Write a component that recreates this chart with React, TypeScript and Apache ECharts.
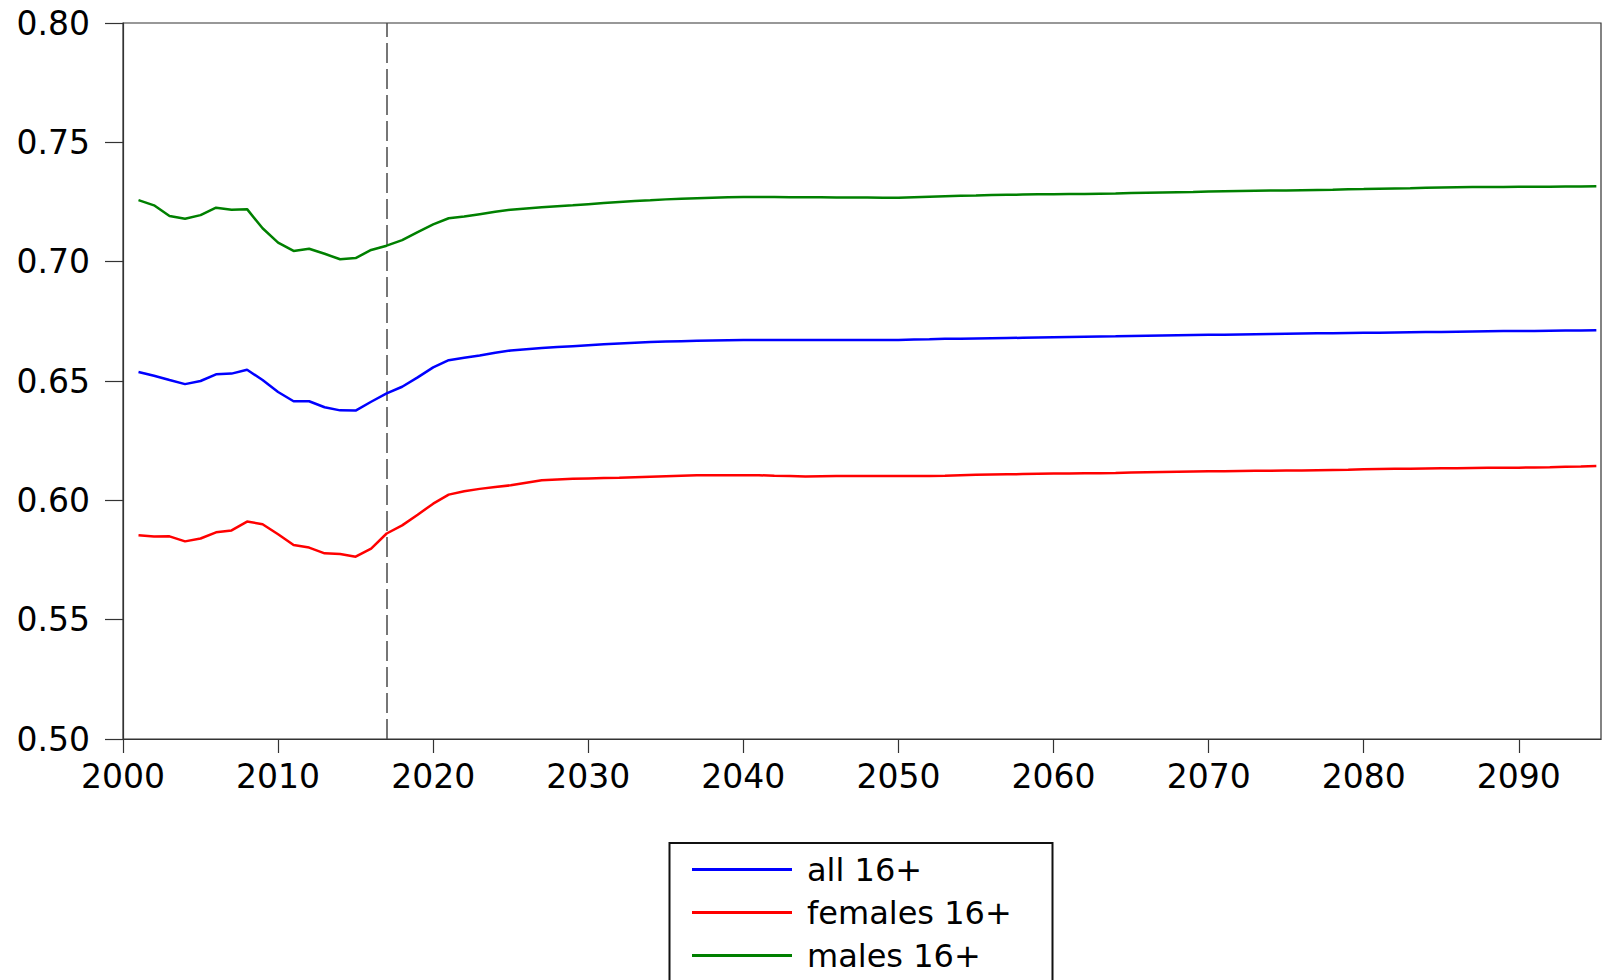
import React, { useEffect, useRef } from "react";
import * as echarts from "echarts";

const startYear = 2001;
const forecastStartYear = 2017;

const seriesNames = ["all 16+", "females 16+", "males 16+"];
const seriesColors = ["#0000FF", "#FF0000", "#008000"];

const allValues = [
  0.6538, 0.6522, 0.6504, 0.6487, 0.65, 0.6528, 0.6531, 0.6547, 0.6504, 0.6454,
  0.6415, 0.6415, 0.639, 0.6377, 0.6376, 0.6413, 0.6448, 0.6476, 0.6515, 0.6557,
  0.6587, 0.6597, 0.6607, 0.6618, 0.6628, 0.6633, 0.6638, 0.6642, 0.6646, 0.665,
  0.6654, 0.6657, 0.666, 0.6663, 0.6665, 0.6667, 0.6669, 0.667, 0.6671, 0.6672,
  0.6672, 0.6672, 0.6672, 0.6672, 0.6672, 0.6672, 0.6672, 0.6672, 0.6672, 0.6672,
  0.6674, 0.6675, 0.6677, 0.6677, 0.6678, 0.6679, 0.668, 0.6681, 0.6682, 0.6683,
  0.6684, 0.6685, 0.6686, 0.6687, 0.6689, 0.669, 0.6691, 0.6692, 0.6693, 0.6694,
  0.6694, 0.6695, 0.6696, 0.6697, 0.6698, 0.6699, 0.67, 0.67, 0.6701, 0.6702,
  0.6702, 0.6703, 0.6704, 0.6705, 0.6705, 0.6706, 0.6707, 0.6708, 0.6709, 0.6709,
  0.671, 0.6711, 0.6712, 0.6712, 0.6713,
];

const femaleValues = [
  0.5854, 0.5848, 0.5849, 0.5828, 0.584, 0.5866, 0.5874, 0.5911, 0.59, 0.5858,
  0.5813, 0.5802, 0.5778, 0.5775, 0.5764, 0.5798, 0.5861, 0.5895, 0.594, 0.5986,
  0.6024, 0.6038, 0.6048, 0.6056, 0.6063, 0.6074, 0.6084, 0.6087, 0.609, 0.6092,
  0.6094, 0.6095, 0.6097, 0.6099, 0.6101, 0.6103, 0.6105, 0.6105, 0.6105, 0.6105,
  0.6105, 0.6103, 0.6102, 0.61, 0.6101, 0.6102, 0.6102, 0.6102, 0.6102, 0.6102,
  0.6102, 0.6102, 0.6103, 0.6105, 0.6107, 0.6108, 0.6109, 0.611, 0.6111, 0.6112,
  0.6112, 0.6113, 0.6114, 0.6115, 0.6117, 0.6118, 0.6119, 0.612, 0.6121, 0.6122,
  0.6122, 0.6123, 0.6124, 0.6124, 0.6125, 0.6125, 0.6126, 0.6127, 0.6128, 0.613,
  0.6131, 0.6132, 0.6132, 0.6133, 0.6134, 0.6134, 0.6135, 0.6136, 0.6137, 0.6137,
  0.6138, 0.6139, 0.6141, 0.6142, 0.6144,
];

const maleValues = [
  0.7258, 0.7236, 0.7191, 0.718, 0.7195, 0.7226, 0.7218, 0.722, 0.714, 0.708,
  0.7045, 0.7054, 0.7033, 0.701, 0.7015, 0.7049, 0.7067, 0.709, 0.7124, 0.7156,
  0.7182, 0.7189, 0.7199, 0.7209, 0.7218, 0.7223, 0.7228, 0.7232, 0.7236, 0.7241,
  0.7246, 0.725, 0.7254, 0.7257, 0.7261, 0.7264, 0.7266, 0.7268, 0.727, 0.7271,
  0.7271, 0.7271, 0.727, 0.727, 0.727, 0.7269, 0.7269, 0.7269, 0.7268, 0.7268,
  0.727, 0.7272, 0.7274, 0.7276, 0.7277, 0.7279, 0.728, 0.7281, 0.7282, 0.7282,
  0.7283, 0.7284, 0.7285, 0.7286, 0.7288, 0.7289, 0.729, 0.7291, 0.7292, 0.7294,
  0.7295, 0.7296, 0.7297, 0.7298, 0.7298, 0.7299, 0.73, 0.7301, 0.7303, 0.7304,
  0.7306, 0.7307, 0.7308, 0.731, 0.7311, 0.7312, 0.7313, 0.7313, 0.7313, 0.7314,
  0.7314, 0.7314, 0.7315, 0.7315, 0.7316,
];

const years = allValues.map((_, i) => startYear + i);

const yTickLabels = ["0.50", "0.55", "0.60", "0.65", "0.70", "0.75", "0.80"];
const xTickLabels = ["2000", "2010", "2020", "2030", "2040", "2050", "2060", "2070", "2080", "2090"];

const FONT = "DejaVu Sans";

export default function App() {
  const ref = useRef<HTMLDivElement>(null);

  useEffect(() => {
    document.body.style.margin = "0";
    const chart = echarts.init(ref.current!, null, { renderer: "svg" });
    const valueSets = [allValues, femaleValues, maleValues];

    const series: any[] = valueSets.map((vals, si) => ({
      name: seriesNames[si],
      type: "line",
      data: vals.map((v, i) => [years[i], v]),
      showSymbol: false,
      symbol: "none",
      lineStyle: { color: seriesColors[si], width: 2.5 },
      itemStyle: { color: seriesColors[si] },
      z: 3,
    }));

    series[0].markLine = {
      silent: true,
      symbol: ["none", "none"],
      label: { show: false },
      lineStyle: { color: "#4a4a4a", type: [20, 6], width: 1.5 },
      data: [{ xAxis: forecastStartYear }],
      z: 2,
    };

    const option: any = {
      animation: false,
      backgroundColor: "#ffffff",
      grid: {
        left: 123,
        top: 23,
        right: 4,
        bottom: 241,
        show: true,
        borderColor: "#333333",
        borderWidth: 1.2,
        containLabel: false,
      },
      xAxis: {
        type: "value",
        min: 2000,
        max: 2095.3,
        interval: 10,
        axisLine: { show: true, onZero: false, lineStyle: { color: "#333333", width: 1.2 } },
        axisTick: { show: true, inside: false, length: 14, lineStyle: { color: "#333333", width: 1.2 } },
        splitLine: { show: false },
        axisLabel: {
          showMaxLabel: false,
          margin: 21,
          color: "#000000",
          fontFamily: FONT,
          fontSize: 33,
          formatter: (v: number) => {
            const idx = Math.round((v - 2000) / 10);
            return xTickLabels[idx] ?? "";
          },
        },
      },
      yAxis: {
        type: "value",
        min: 0.5,
        max: 0.8,
        interval: 0.05,
        axisLine: { show: true, onZero: false, lineStyle: { color: "#333333", width: 1.2 } },
        axisTick: { show: true, inside: false, length: 18, lineStyle: { color: "#333333", width: 1.2 } },
        splitLine: { show: false },
        axisLabel: {
          margin: 33,
          color: "#000000",
          fontFamily: FONT,
          fontSize: 33,
          formatter: (v: number) => {
            const idx = Math.round((v - 0.5) / 0.05);
            return yTickLabels[idx] ?? "";
          },
        },
      },
      legend: {
        show: true,
        orient: "vertical",
        left: 692,
        top: 848,
        padding: 0,
        itemGap: 0,
        itemWidth: 100,
        itemHeight: 3,
        icon: "rect",
        selectedMode: false,
        data: seriesNames,
        textStyle: {
          fontFamily: FONT,
          fontSize: 32,
          color: "#000000",
          lineHeight: 43,
          padding: [0, 0, 0, 10],
        },
      },
      graphic: [
        {
          type: "rect",
          shape: { x: 669.5, y: 843, width: 383, height: 200 },
          style: { fill: "none", stroke: "#111111", lineWidth: 2 },
          z: 0,
          silent: true,
        },
      ],
      series,
    };

    chart.setOption(option);
    return () => chart.dispose();
  }, []);

  return (
    <div
      ref={ref}
      style={{ position: "fixed", left: 0, top: 0, width: 1605, height: 980 }}
    />
  );
}
